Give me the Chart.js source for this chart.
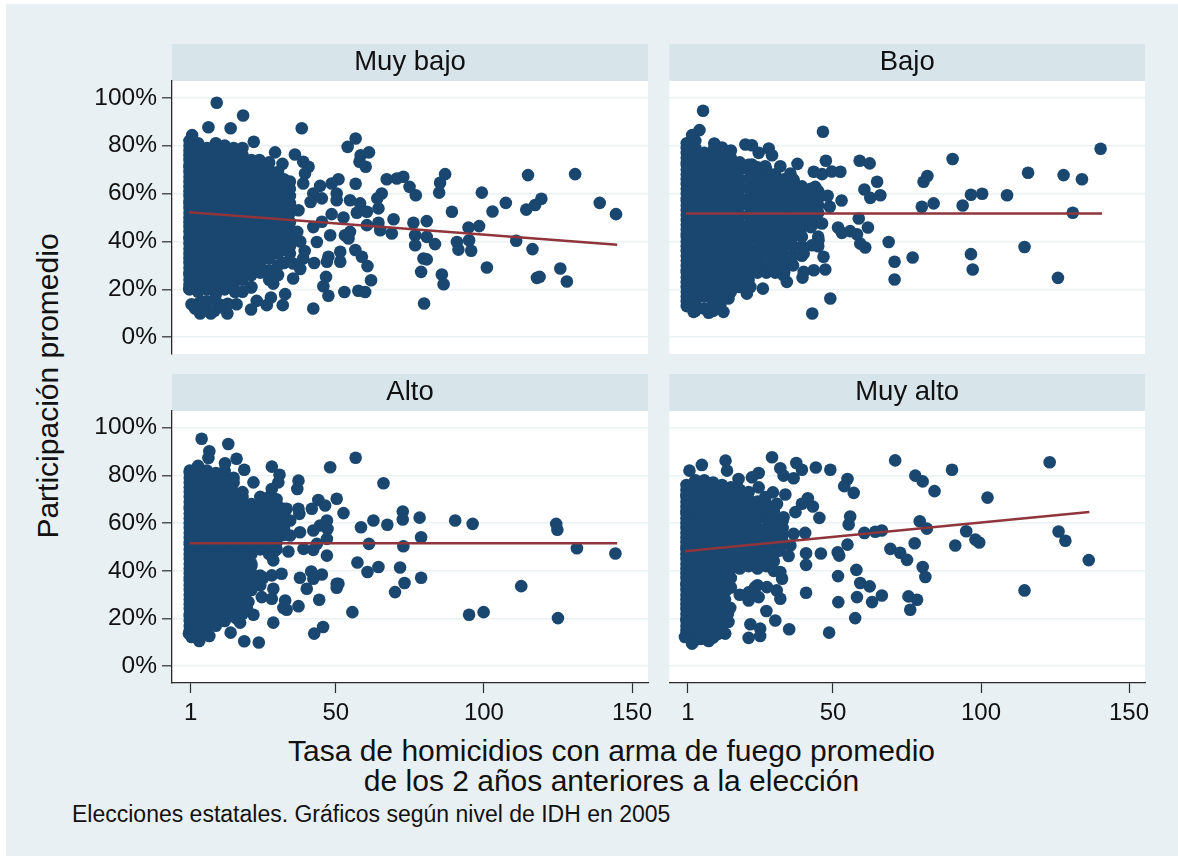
<!DOCTYPE html>
<html lang="es"><head><meta charset="utf-8">
<script src="https://cdn.jsdelivr.net/npm/chart.js@4/dist/chart.umd.min.js"></script>
<style>
html,body{margin:0;padding:0;background:#fff;width:1178px;height:856px;overflow:hidden}
#bg{position:absolute;left:6px;top:4px;width:1172px;height:852px;background:#e9f0f3}
canvas{position:absolute}
.t{position:absolute;font-family:"Liberation Sans",Arial,sans-serif;color:#111;white-space:nowrap;line-height:1}
</style></head><body>
<div id="bg"></div>
<canvas id="c1" style="left:80px;top:44px" width="588" height="330"></canvas>
<canvas id="c2" style="left:663px;top:44px" width="502" height="330"></canvas>
<canvas id="c3" style="left:80px;top:374px" width="588" height="360"></canvas>
<canvas id="c4" style="left:663px;top:374px" width="502" height="360"></canvas>
<div class="t" id="yt" style="left:48px;top:386px;font-size:30px;transform:translate(-50%,-50%) rotate(-90deg)">Participación promedio</div>
<div class="t" style="left:611.5px;top:736px;font-size:30px;transform:translateX(-50%)">Tasa de homicidios con arma de fuego promedio</div>
<div class="t" style="left:611.5px;top:766px;font-size:30px;transform:translateX(-50%)">de los 2 años anteriores a la elección</div>
<div class="t" style="left:72px;top:803px;font-size:23px">Elecciones estatales. Gráficos según nivel de IDH en 2005</div>
<script>
const panelTitles = ["Muy bajo", "Bajo", "Alto", "Muy alto"];
const yTickValues = [0, 20, 40, 60, 80, 100];
const xTickValues = [1, 50, 100, 150];

// dense left part of each panel: one x per column, the y values read in that column
const muyBajoColX = [0.6,3.5,6.5,9.5,12.5,15.5,18.5,21.5,24.5,27.5,30.5,32.5,34.5];
const muyBajoColY = [
 [20,22,24,26,27,29,31,33,35,37,39,41,42,44,46,48,50,52,54,56,57,59,61,63,65,67,69,71,72,74,76,78,80,82],
 [14,19,22,26,29,33,37,41,44,48,52,56,59,63,67,71,74,78,81],
 [15,20,24,28,31,35,39,43,46,50,54,58,61,65,69,73,76,79],
 [18,22,26,30,33,37,41,45,48,52,56,60,63,67,71,75,78,81],
 [20,24,28,31,35,39,43,47,50,54,58,62,65,69,73,77,80],
 [22,26,29,33,37,41,45,48,52,56,60,64,67,71,75,79],
 [19,24,28,31,35,39,43,47,50,54,58,62,66,69,73,76,79],
 [21,26,30,33,37,41,45,48,52,56,60,64,67,70,74],
 [27,31,35,39,43,47,50,54,58,62,66,69,72],
 [24,28,33,37,41,45,48,52,56,60,64,67,70,73],
 [26,30,35,39,43,47,50,54,58,62,66,69],
 [31,37,41,45,48,52,56,60,63,66],
 [35,38,41,45,48,52,56,59,62,65]
];
const muyBajoSueltos = [[9.8,97.9],[18.7,92.6],[7,87.7],[14.5,87.3],[38.5,87.3],[1.5,84.4],[22.3,81.6],[56.7,83],[54,79.5],[61.2,77.2],[58.4,76],[58,73.3],[60.1,71.2],[29.5,77.2],[36.2,76.3],[24.2,74],[32,72.4],[39,73.3],[40.8,71.2],[39.6,68.4],[39,64.2],[50.9,66],[48.6,64.2],[44.7,63.2],[56.7,64.1],[67.2,66],[70.6,66.3],[72.8,67],[74.9,62.8],[77,59.3],[86.9,68.1],[85.2,64.5],[84.9,60.4],[65.5,60],[64,58],[64.4,53.8],[50.3,60],[42.4,60],[41.5,56.5],[45.3,58],[50.3,57.2],[54.8,57.2],[58.2,55.9],[60.5,52.4],[57.1,52],[48.6,51.4],[37.4,53],[52.6,50],[42.4,46],[45.3,48.2],[60.5,46.8],[64.4,47.8],[65,44.7],[68.9,43.3],[69.5,49.3],[76.2,47.8],[80.7,48.5],[76.8,42.6],[80.7,41.9],[76.8,38.4],[83.5,38.9],[89.2,52.4],[94.8,45.8],[98.4,46.4],[90.9,39.8],[91.4,36.6],[95,40.5],[95.7,36.1],[99.3,60.4],[102.9,52.5],[107.4,56.1],[114.9,67.7],[114.3,53.3],[117.3,55.2],[119.4,57.8],[130.8,68.1],[139.1,56.1],[144.6,51.4],[110.9,40.3],[116.4,36.8],[125.8,28.7],[128,23.3],[117.9,24.8],[118.8,25.2],[101,29.1],[79.6,32.9],[80.7,32.5],[78.8,27.3],[85.8,26.2],[86.4,22.1],[79.8,14.1],[43.6,39.8],[48.1,42.6],[53.1,42.6],[54.3,41.2],[54.8,44],[47.5,33.6],[47,31.5],[51.5,35.7],[51.5,31.5],[56.6,36.4],[58.8,33.6],[60.7,29.7],[42.7,31],[39,32.9],[35.6,30.8],[46.7,25.2],[45.8,21.3],[47.5,17.3],[61.9,23.8],[52.9,18.9],[57.6,19.4],[59.9,18.9],[42.4,12],[32.9,18],[32.1,13.4],[28.1,16.6],[26.7,13.4],[23.3,15.2],[21.4,11.6],[16.5,13.8],[13.4,9.9],[35.6,24.5],[28.9,22.4],[21.4,20.8],[16,18.9],[7.8,9.9],[4.2,9.9],[1.3,13.8],[5.3,14.8],[10.3,14],[0.5,20.3],[2.5,12],[6,11.5],[9,11],[11.5,12.5],[13.5,14],[38,28.5],[39.5,36],[38,40],[37,44]];
const muyBajoLineaX = [0.4, 145];
const muyBajoLineaY = [52.2, 38.6];

const bajoColX = [0.6,3.5,6.5,9.5,12.5,15.5,18.5,21.5,24.5,27.5,30.5,33.5,36.5,39.5,42.5,45];
const bajoColY = [
 [13,15,17,19,21,23,25,27,28,30,32,34,36,38,40,42,43,45,47,49,51,53,55,57,58,60,62,64,66,68,70,72,73,75,77,79,81],
 [11,15,19,23,26,30,34,38,42,45,49,53,57,60,64,68,72,75,79,82],
 [12,17,21,25,28,32,36,40,43,47,51,55,58,62,66,70,73,77],
 [11,15,19,23,26,30,34,38,42,45,49,53,57,60,64,68,72,75,78],
 [17,21,25,28,32,36,40,43,47,51,55,58,62,66,70,73,77],
 [19,23,26,30,34,38,42,45,49,53,57,60,64,68,72,75,78],
 [21,25,28,32,36,40,43,47,51,55,58,62,66,70,73],
 [24,28,31,34,37,41,44,47,51,55,58,62,66,70,72],
 [27,31,34,37,41,45,49,53,57,60,64,68,71],
 [27,30,33,36,39,42,45,47,51,55,58,62,66,70],
 [27,30,33,36,40,43,46,50,54,57,60,64,68],
 [27,31,34,38,42,46,49,53,56,60,63,66],
 [30,34,38,42,44,47,51,55,58,62,66],
 [34,38,42,46,49,53,57,60,63],
 [46,50,53,56,59,62],
 [38,42,48,52,55,58,61]
];
const bajoSueltos = [[6.1,94.6],[4.9,86.5],[2.4,84.4],[46.6,85.8],[9.9,80.9],[12.5,79.2],[20.4,80.5],[22.6,80.2],[24.9,77],[28.3,78.8],[29.4,76],[22.6,72.1],[27.1,71.4],[32.2,71.4],[38,72.4],[47.6,73.7],[43.5,69.1],[46.3,68.1],[49.6,69.2],[52.5,69.1],[59,73.7],[62.4,72.6],[64.9,64.9],[60.6,61.7],[62.6,58.2],[66,59.3],[52.9,57.1],[48.2,59.1],[48.9,54.5],[35.6,68.4],[36.7,65.6],[40.1,61.7],[44,62.8],[44.6,58.6],[34.4,56.5],[41.2,56.5],[46.3,47.5],[42.9,46.8],[38.4,46.1],[58.7,49.6],[61.8,45.8],[51.7,45.8],[53,43.6],[55.8,44.3],[58.1,43],[59.2,39.1],[60.9,37.5],[68.8,39.8],[70.8,31.5],[76.9,33.3],[70.8,24.1],[45.1,40.5],[42.9,38.4],[46.8,33.6],[40.1,35],[34.4,32.2],[47.4,28.3],[43.5,28],[40.1,27.3],[39.7,24.9],[34.4,23.1],[33.3,25.9],[29.9,28.7],[26.3,20.3],[22.1,21],[20.9,18.2],[49.1,16.2],[43,9.9],[13,10.6],[8,10.2],[2.9,10.6],[14.7,16.2],[11.9,13.4],[23.7,33.6],[27.7,33.6],[20.4,32.2],[31.1,40.5],[35.6,39.8],[25.4,39.1],[80,54.5],[84,55.9],[80.6,64.9],[81.9,67.3],[90.4,74.4],[93.8,55],[96.6,59.5],[100.4,59.9],[108.8,59.3],[115.9,68.7],[127.9,67.7],[134.1,66],[140.4,78.7],[131,52],[114.7,37.7],[96.6,34.7],[97.2,28.3],[126,24.8]];
const bajoLineaX = [0.3, 140.9];
const bajoLineaY = [51.7, 51.7];

const altoColX = [0.7,3.5,6.5,9.5,12.5,15.5,18.5,21.5,24.5,27.5,30,32.5];
const altoColY = [
 [15,17,19,21,22,24,26,28,30,32,34,36,37,39,41,43,45,47,49,51,52,54,56,58,60,62,64,66,67,69,71,73,75,77,79,81,82],
 [13,17,21,24,28,32,36,39,43,47,51,54,58,62,66,69,73,77,81,84],
 [15,19,22,26,30,34,37,41,45,49,52,56,60,64,67,71,75,79,82],
 [17,21,24,28,32,36,39,43,47,51,54,58,62,66,69,73,77,81],
 [19,22,26,30,34,37,41,45,49,52,56,60,64,67,71,75,79,82],
 [21,24,28,32,36,39,43,47,51,54,58,62,66,69,73,77,79],
 [22,26,30,34,37,41,45,49,52,56,60,64,67,71,73],
 [32,36,39,43,47,51,54,58,62,66,68],
 [34,38,49,52,56,60,64,67,69,71],
 [47,51,54,58,62,66,69,71],
 [49,52,55,58,60,64,68,70],
 [55,58,61,64,66]
];
const altoSueltos = [[4.7,95.4],[13.7,93.2],[7.3,90.1],[7,87.3],[16.5,87],[19.1,82.4],[12.6,85.1],[28.4,83.7],[48.1,83.4],[56.7,87.4],[66.1,76.7],[31,80.3],[30.6,77.1],[37.4,77.8],[37,74.3],[22.2,77.1],[28.4,74.3],[44.1,69.7],[50.3,70.2],[46.4,67.4],[41.9,66],[52.6,64.2],[37.4,66],[37.7,63.9],[33.4,66],[34.6,61.1],[47,61.1],[44.7,59],[42.4,56.9],[47.2,57.6],[37.9,56.2],[47,53.4],[34.6,54.8],[43.6,51.3],[39.1,49.2],[42.4,48.8],[34,48.1],[47,46.4],[58.5,58.3],[62.7,61.1],[67.4,59.3],[72.6,64.9],[72.6,61.5],[78.3,62.3],[78.8,54.1],[61.2,51.3],[72.8,50.3],[90.3,61.1],[96.2,59.7],[124.4,59.7],[124.8,57.2],[131.4,49.5],[144.4,47.3],[57.3,43.5],[60.7,39.5],[64.4,41.6],[71.7,41.4],[78.8,37.1],[73.2,34.9],[70,31.1],[112.6,33.6],[55.6,22.7],[95,21.6],[99.9,22.7],[125,20.2],[50.3,34.6],[50.9,34.6],[50.3,32.9],[41.7,39.7],[42.4,36.7],[45.3,38.5],[37.9,37.1],[40.2,32.5],[44.4,27.9],[37.4,25.2],[32.9,27.6],[32.3,24.5],[33.4,23.7],[31.7,38.8],[28.4,38.1],[25.5,37.1],[28.9,32.5],[28.4,28.3],[25,29],[22.2,21.6],[28.9,18.3],[19.1,10.5],[24,10],[45.7,16.5],[42.7,13.7],[14.5,14.1],[17.7,18.3],[7.3,12.7],[3.9,10.6],[0.4,13.7],[1.3,12.3],[19.4,27.6],[28.9,44.4],[29.5,48.5],[21.5,42],[20.5,27],[20,24],[16.5,20]];
const altoLineaX = [0.5, 145];
const altoLineaY = [51.6, 51.6];

const muyAltoColX = [0.5,3.5,6.5,9.5,12.5,15.5,18.5,21.5,24.5,27.5,30,33];
const muyAltoColY = [
 [13,15,17,19,20,22,24,26,28,30,32,34,35,37,39,41,43,45,47,49,50,52,54,56,58,60,62,64,65,67,69,71,72,74,76],
 [11,15,19,22,26,30,34,37,41,45,49,52,56,60,64,67,71,75,78],
 [13,17,20,24,28,32,35,39,43,47,50,54,58,62,65,69,73,76,78],
 [12,15,19,22,26,30,34,37,41,45,49,52,56,60,64,67,71,74,77],
 [17,20,24,28,32,35,39,43,47,50,54,58,62,65,69,73,76],
 [33,37,41,45,49,52,56,60,64,67,71,75],
 [30,41,43,47,50,54,58,62,65,69,71,74],
 [31,42,45,49,52,56,60,64,67,70,73],
 [34,41,44,47,50,54,58,62,65,69],
 [42,44,47,50,52,55,58,62,65,68],
 [40,44,47,50,53,56,59,62,65],
 [52,55,58,61]
];
const muyAltoSueltos = [[5.7,84.4],[13.7,86.2],[1.5,82],[29.4,87.6],[32.2,83],[33.3,79.9],[37.6,85.2],[39.5,82.4],[36.7,78.8],[44.2,83.3],[49.1,82.4],[54.9,78.5],[53.8,75.5],[57,72.7],[71,86.3],[77.8,79.9],[80.3,77.5],[84.3,73.4],[90.2,82.4],[102.2,70.7],[123.2,85.5],[24.9,81],[22.6,79.2],[14.2,82],[18.1,78.5],[24.9,75],[29.7,72.9],[27.1,70.9],[33.9,72],[31.1,68.1],[28.7,65.3],[41.5,70.4],[39.5,68.1],[43.2,67],[37.3,64.6],[33.3,62.5],[45.4,62.2],[55.8,62.8],[55.3,59.4],[36.7,55.5],[40.6,55.9],[32.2,56.9],[35.6,50.6],[32,48.5],[35,46.2],[40.9,47.4],[40.9,42.5],[45.9,47.3],[51.6,47.8],[52.1,46.4],[54.9,51],[60.6,55.9],[64.3,56.4],[66.5,56.9],[79.3,60.8],[81.7,57.7],[77.6,51.6],[69.4,49.2],[72.7,47.6],[75,44.6],[80.3,41.6],[81.2,37.4],[57.9,40.4],[51.7,37.8],[59.2,34.9],[62.4,33.5],[40.9,30.8],[51.8,26.9],[58.1,29],[63.2,26.9],[66.5,29.7],[75.5,29.3],[78.4,27.9],[76.1,23.7],[57.5,20.2],[48.7,14.1],[35.2,15.5],[30.5,19.2],[27.5,23.2],[25.4,15.8],[25.4,12.7],[22.1,17.6],[21.5,11.9],[14.7,18.6],[15.3,24.5],[13.6,13.7],[32.2,28.3],[31,31.8],[32.8,36.7],[32.2,39.5],[27.7,33.2],[24.9,29],[21.5,27.6],[27.1,43],[23.7,33.2],[95,56.6],[91.3,50.6],[98.1,53.1],[99.4,51.9],[126.2,56.5],[128.5,52.6],[136.4,44.5],[114.7,31.8],[8,10.6],[2.4,9.5],[0,12.3],[11,13.5],[5.5,11.5],[14.5,22],[13.5,28],[14,32]];
const muyAltoLineaX = [0, 136.6];
const muyAltoLineaY = [48.2, 64.7];

const markColor = "#1a476f", lineColor = "#90353b", axisColor = "#2b2b2b",
      gridColor = "#eaf2f3", stripColor = "#d7e4ea", font = '"Liberation Sans", Arial, sans-serif';

const backdrop = {
  id: "backdrop",
  beforeDraw(c) {
    const a = c.chartArea, g = c.ctx;
    g.save();
    g.fillStyle = stripColor; g.fillRect(a.left, 0, a.width, a.top);
    g.fillStyle = "#fff"; g.fillRect(a.left, a.top, a.width, a.height);
    g.restore();
  }
};

function points(colX, colY, extra) {
  const out = [];
  colX.forEach((x, i) => colY[i].forEach(y => out.push({x, y})));
  extra.forEach(p => out.push({x: p[0], y: p[1]}));
  return out;
}

function panel(id, title, colX, colY, extra, lx, ly, showY, showX) {
  new Chart(document.getElementById(id), {
    type: "scatter",
    data: { datasets: [
      { type: "line", data: lx.map((x, i) => ({x, y: ly[i]})), borderColor: lineColor, borderWidth: 2.6, pointRadius: 0, order: 0 },
      { data: points(colX, colY, extra), backgroundColor: markColor, borderWidth: 0, pointRadius: 6.3, order: 1 }
    ]},
    options: {
      responsive: false, animation: false, events: [],
      layout: { padding: { left: 0, top: 0, bottom: showX ? 0 : 20, right: 20 } },
      plugins: {
        legend: { display: false }, tooltip: { enabled: false },
        title: { display: true, text: title, color: "#111", fullSize: false, padding: 0,
                 font: { family: font, size: 27.5, weight: "normal", lineHeight: 37/27.5 } }
      },
      scales: {
        x: {
          type: "linear", min: -5.3, max: 155.4, display: showX,
          afterBuildTicks: s => { s.ticks = xTickValues.map(value => ({value})); },
          afterFit: s => { s.height = showX ? 51 : 0; },
          border: { color: axisColor, width: 1.3 },
          grid: { drawOnChartArea: false, tickLength: 10, tickColor: axisColor, tickWidth: 1.2 },
          ticks: { color: "#111", font: { family: font, size: 24 }, padding: 6, maxRotation: 0, autoSkip: false, callback: v => String(v) }
        },
        y: {
          type: "linear", min: -7, max: 107,
          afterBuildTicks: s => { s.ticks = yTickValues.map(value => ({value})); },
          afterFit: s => { s.width = showY ? 92 : 0; },
          border: { display: showY, color: axisColor, width: 1.3 },
          grid: { color: gridColor, lineWidth: 1.6, drawTicks: showY, tickLength: 10, tickColor: axisColor, tickWidth: 1.2 },
          ticks: { display: showY, color: "#111", font: { family: font, size: 24.5 }, padding: 5, autoSkip: false, callback: v => v + "%" }
        }
      }
    },
    plugins: [backdrop]
  });
}

panel("c1", panelTitles[0], muyBajoColX, muyBajoColY, muyBajoSueltos, muyBajoLineaX, muyBajoLineaY, true, false);
panel("c2", panelTitles[1], bajoColX, bajoColY, bajoSueltos, bajoLineaX, bajoLineaY, false, false);
panel("c3", panelTitles[2], altoColX, altoColY, altoSueltos, altoLineaX, altoLineaY, true, true);
panel("c4", panelTitles[3], muyAltoColX, muyAltoColY, muyAltoSueltos, muyAltoLineaX, muyAltoLineaY, false, true);
</script>
</body></html>
